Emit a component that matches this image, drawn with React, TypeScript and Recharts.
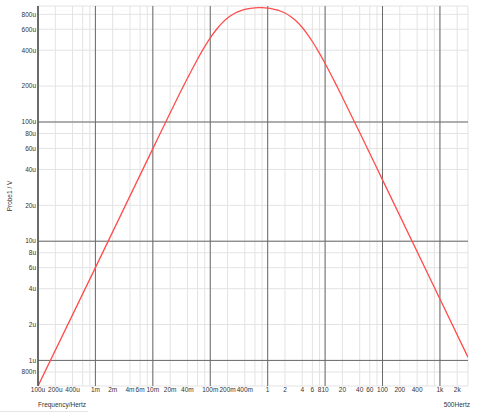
import React from "react";
import { LineChart, Line, XAxis, YAxis, CartesianGrid, ReferenceLine } from "recharts";

// Frequency (Hz) and Probe1 voltage (V)
const freqs = [1e-4, 1e-3, 1e-2, 0.02, 0.04, 0.06, 0.08, 0.1, 0.13, 0.16, 0.2, 0.25, 0.3, 0.4, 0.5, 0.6, 0.7, 0.8, 1, 1.2, 1.5, 2, 2.5, 3, 4, 5, 6, 8, 10, 15, 20, 40, 100, 1000, 3080];
const volts = [6.1e-7, 6.0e-6, 59.8e-6, 119e-6, 232.5e-6, 336.4e-6, 428.2e-6, 507.1e-6, 602.6e-6, 675.0e-6, 744.3e-6, 801.5e-6, 838.2e-6, 878.9e-6, 897.9e-6, 906.6e-6, 909.8e-6, 909.5e-6, 902.8e-6, 891.1e-6, 867.8e-6, 820.4e-6, 768.6e-6, 716.5e-6, 620.2e-6, 539.3e-6, 473.4e-6, 376.0e-6, 309.6e-6, 212.8e-6, 161.4e-6, 81.6e-6, 32.7e-6, 3.275e-6, 1.063e-6];

const xTicks = [1e-4, 2e-4, 4e-4, 6e-4, 8e-4, 1e-3, 2e-3, 4e-3, 6e-3, 8e-3, 1e-2, 2e-2, 4e-2, 6e-2, 8e-2, 0.1, 0.2, 0.4, 0.6, 0.8, 1, 2, 4, 6, 8, 10, 20, 40, 60, 80, 100, 200, 400, 600, 800, 1000, 2000];
const xTickLabels = ["100u", "200u", "400u", "", "", "1m", "2m", "4m", "6m", "", "10m", "20m", "40m", "", "", "100m", "200m", "400m", "", "", "1", "2", "4", "6", "8", "10", "20", "40", "60", "", "100", "200", "400", "", "", "1k", "2k"];
const xDecades = [1e-4, 1e-3, 1e-2, 0.1, 1, 10, 100, 1000];

const yTicks = [8e-7, 1e-6, 2e-6, 4e-6, 6e-6, 8e-6, 1e-5, 2e-5, 4e-5, 6e-5, 8e-5, 1e-4, 2e-4, 4e-4, 6e-4, 8e-4];
const yTickLabels = ["800n", "1u", "2u", "4u", "6u", "8u", "10u", "20u", "40u", "60u", "80u", "100u", "200u", "400u", "600u", "800u"];
const yDecades = [1e-6, 1e-5, 1e-4];

const data = freqs.map((f, i) => ({ f, v: volts[i] }));

const FONT = "'Liberation Sans', Arial, sans-serif";
const FS = 6.5;

function findLabel(ticks: number[], labels: string[], v: number): string {
  for (let i = 0; i < ticks.length; i++) {
    if (Math.abs(Math.log10(ticks[i]) - Math.log10(v)) < 1e-6) return labels[i];
  }
  return "";
}

const XTick = (props: any) => {
  const { x, y, payload } = props;
  const label = findLabel(xTicks, xTickLabels, payload.value);
  if (!label) return null;
  return (
    <text x={x} y={y} dy="0.71em" textAnchor="middle" fontSize={FS} fontFamily={FONT} fill="#333">
      {label}
    </text>
  );
};

const YTick = (props: any) => {
  const { x, y, payload } = props;
  const label = findLabel(yTicks, yTickLabels, payload.value);
  return (
    <text x={x} y={y} dy="0.35em" textAnchor="end" fontSize={FS} fontFamily={FONT} fill="#333">
      {label}
    </text>
  );
};

export default function App() {
  return (
    <div style={{ position: "absolute", left: 0, top: 0, width: 484, height: 417, background: "#fff" }}>
      <LineChart width={484} height={417} data={data} margin={{ top: 6, right: 16, bottom: 0, left: 0 }}>
        <CartesianGrid stroke="#e3e3e3" strokeWidth={1} />
        <XAxis
          dataKey="f"
          type="number"
          scale="log"
          domain={[1e-4, 3080]}
          allowDataOverflow
          ticks={xTicks}
          interval={0}
          tick={<XTick />}
          tickLine={false}
          axisLine={false}
          tickSize={1}
          tickMargin={0}
          height={31}
        />
        <YAxis
          type="number"
          scale="log"
          domain={[6.1e-7, 9.4e-4]}
          allowDataOverflow
          ticks={yTicks}
          interval={0}
          tick={<YTick />}
          tickLine={false}
          axisLine={{ stroke: "#555", strokeWidth: 1.5 }}
          tickSize={2}
          tickMargin={0}
          width={38}
        />
        {xDecades.map((d) => (
          <ReferenceLine key={"x" + d} x={d} stroke="#6a6a6a" strokeWidth={1} />
        ))}
        {yDecades.map((d) => (
          <ReferenceLine key={"y" + d} y={d} stroke="#6a6a6a" strokeWidth={1} />
        ))}
        <Line
          type="monotone"
          dataKey="v"
          stroke="#ff4d4d"
          strokeWidth={1.3}
          dot={false}
          isAnimationActive={false}
        />
      </LineChart>
      <svg width={484} height={417} style={{ position: "absolute", left: 0, top: 0, pointerEvents: "none" }}>
        <text x={10} y={196} transform="rotate(-90 10 196)" textAnchor="middle" dy="0.35em" fontSize={FS} fontFamily={FONT} fill="#333">
          Probe1 / V
        </text>
        <text x={38} y={407} fontSize={FS} fontFamily={FONT} fill="#333">
          Frequency/Hertz
        </text>
        <text x={470} y={407} textAnchor="end" fontSize={FS} fontFamily={FONT} fill="#333">
          500Hertz
        </text>
        <line x1={0} y1={411.5} x2={88} y2={411.5} stroke="#e6e6e6" strokeWidth={1} />
      </svg>
    </div>
  );
}
